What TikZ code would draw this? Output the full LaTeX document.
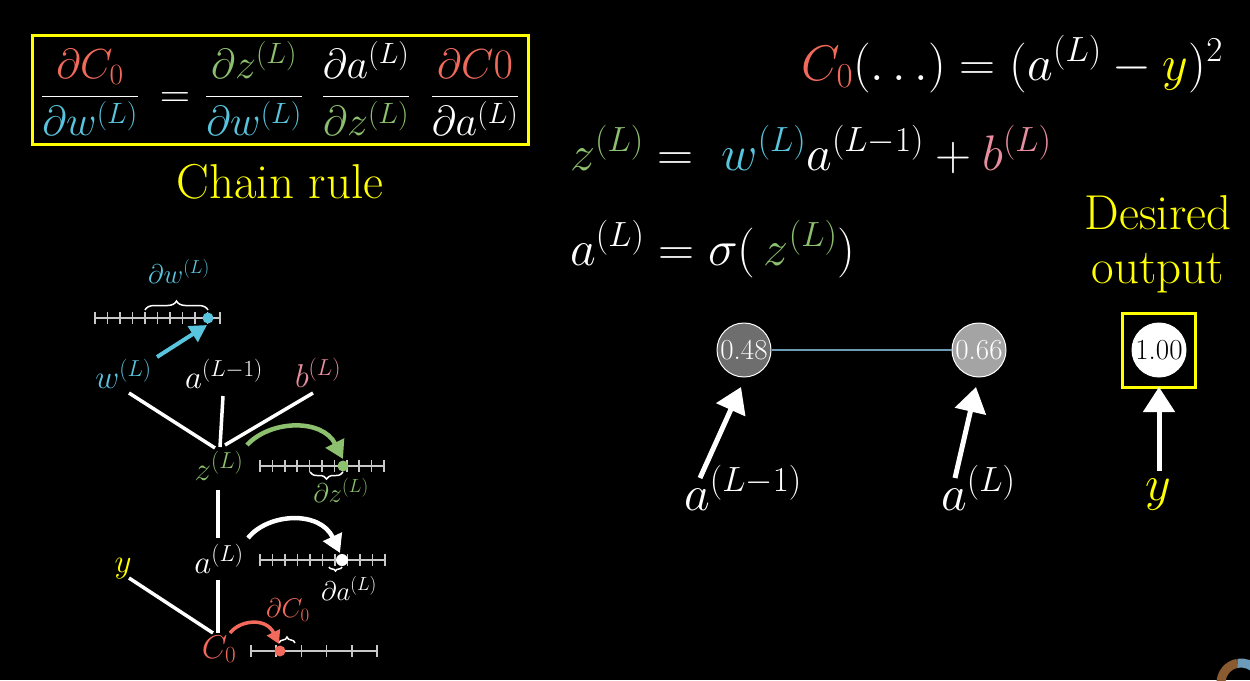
\RequirePackage{fix-cm}
\documentclass[tikz,border=0pt]{standalone}
\usepackage{amsmath}
\usetikzlibrary{arrows.meta,decorations.pathreplacing}
\definecolor{cred}{HTML}{F26A5B}
\definecolor{cblue}{HTML}{58C4DD}
\definecolor{cgreen}{HTML}{8CBF6E}
\definecolor{cpink}{HTML}{E88E9E}
\definecolor{cyel}{HTML}{FFFF00}
\definecolor{lgray}{HTML}{C8C8C8}
\definecolor{linkblue}{HTML}{6E9BB4}
\definecolor{nodedark}{HTML}{6E6E6E}
\definecolor{nodelight}{HTML}{A4A4A4}
\definecolor{spinbrown}{HTML}{8A5A30}
\definecolor{spinblue}{HTML}{6C9CBA}
\newcommand\fsz[1]{\fontsize{#1}{#1}\selectfont}
\newcommand\numline[4]{%
  \draw[tickline] (#1,#3) -- (#2,#3);
  \foreach \i in {0,...,#4} {\draw[tickline] ({#1+\i*(#2-#1)/#4},{#3-6}) -- ++(0,12);}
}
\tikzset{
  lbl/.style={inner sep=0pt, text=white, anchor=base},
  gl/.style={lbl, font=\fsz{33}},
  dl/.style={lbl, font=\fsz{27}},
  eql/.style={lbl, font=\fsz{50}},
  fracl/.style={lbl, font=\fsz{42}},
  edgeline/.style={draw=white, line width=3.5pt},
  tickline/.style={draw=lgray, line width=1.5pt},
  neuron/.style={circle, draw=white, line width=1pt, minimum size=54pt, inner sep=0pt, font=\fsz{29}},
  bigarrow/.style={draw=white, line width=5pt, -{Triangle[width=31pt,length=25pt]}},
  brc/.style={draw=white, line width=1.5pt, decoration={brace, amplitude=#1}, decorate},
}
\begin{document}
\begin{tikzpicture}[x=1pt,y=-1pt]
\fill[black] (0,0) rectangle (1250,680);
\useasboundingbox (0,0) rectangle (1250,680);

% ---------- chain rule box ----------
\node[draw=cyel, line width=3pt, minimum width=496pt, minimum height=109pt, inner sep=0pt] (box) at (280,89.5) {};
\node[fracl] (f1) at (90,107) {$\dfrac{\color{cred}\partial C_0}{\color{cblue}\partial w^{(L)}}$};
\node[fracl] (eqs) at (175,107) {$=$};
\node[fracl] (f2) at (254,107) {$\dfrac{\color{cgreen}\partial z^{(L)}}{\color{cblue}\partial w^{(L)}}$};
\node[fracl] (f3) at (366,107) {$\dfrac{\partial a^{(L)}}{\color{cgreen}\partial z^{(L)}}$};
\node[fracl] (f4) at (475,107) {$\dfrac{\color{cred}\partial C0}{\partial a^{(L)}}$};
\node[lbl, text=cyel, font=\fsz{49}] (chain) at (280,198) {Chain rule};

% ---------- right equations ----------
\node[eql, anchor=base east] (eqC) at (1223,80) {$\color{cred}C_0\color{white}(\ldots) = (a^{(L)} - {\color{cyel}y})^2$};
\node[eql, anchor=base west] (eqz) at (570,170) {$\color{cgreen}z^{(L)}\color{white} = \;{\color{cblue}w^{(L)}}a^{(L-1)} + {\color{cpink}b^{(L)}}$};
\node[eql, anchor=base west] (eqa) at (570,265) {$a^{(L)} = \sigma(\,{\color{cgreen}z^{(L)}})$};
\node[lbl, text=cyel, font=\fsz{49}] (des) at (1158,229) {Desired};
\node[lbl, text=cyel, font=\fsz{49}] (outp) at (1158,283) {output};

% ---------- network ----------
\node[neuron, fill=nodedark, text=white] (n1) at (744,350) {0.48};
\node[neuron, fill=nodelight, text=white] (n2) at (979,350) {0.66};
\node[neuron, fill=white, text=black] (n3) at (1159,350) {1.00};
\node[draw=cyel, line width=3pt, minimum width=73pt, minimum height=74pt, inner sep=0pt] (ybox) at (1158.5,350) {};
\draw[linkblue, line width=1.5pt] (n1) -- (n2);

\node[eql, anchor=base west] (lA) at (684,510) {$a^{(L-1)}$};
\node[eql, anchor=base west] (lB) at (941,510) {$a^{(L)}$};
\node[eql, text=cyel] (lY) at (1158,500) {$y$};
\coordinate (tA) at (700,478);
\coordinate (tB) at (955,478);
\coordinate (tY) at (1159,471);
\coordinate (hA) at (741,387);
\coordinate (hB) at (976,387);
\coordinate (hY) at (1159,387);
\draw[bigarrow] (tA) -- (hA);
\draw[bigarrow] (tB) -- (hB);
\draw[bigarrow] (tY) -- (hY);

% ---------- computational graph ----------
\node[dl, text=cblue] (dw) at (179,283) {$\partial w^{(L)}$};
\node[gl, text=cblue] (w) at (123.5,388) {$w^{(L)}$};
\node[gl] (aprev) at (224,388) {$a^{(L-1)}$};
\node[gl, text=cpink] (b) at (318,387) {$b^{(L)}$};
\node[gl, text=cgreen] (z) at (219,480) {$z^{(L)}$};
\node[dl, text=cgreen] (dz) at (341,502) {$\partial z^{(L)}$};
\node[gl] (a) at (219,573) {$a^{(L)}$};
\node[dl] (da) at (349,600) {$\partial a^{(L)}$};
\node[gl, text=cyel] (y) at (123,572) {$y$};
\node[dl, text=cred] (dC) at (288,617) {$\partial C_0$};
\node[gl, text=cred] (C) at (219,658) {$C_0$};

\coordinate (w1) at (129,393); \coordinate (w2) at (215,448);
\coordinate (p1) at (223,396); \coordinate (p2) at (220,447);
\coordinate (b1) at (313,393); \coordinate (b2) at (225,445);
\coordinate (z1) at (218,490); \coordinate (z2) at (218,538);
\coordinate (a1) at (218,580); \coordinate (a2) at (218,633);
\coordinate (y1) at (129,578); \coordinate (y2) at (213,633);
\draw[edgeline] (w1) -- (w2);
\draw[edgeline] (p1) -- (p2);
\draw[edgeline] (b1) -- (b2);
\draw[edgeline] (z1) -- (z2);
\draw[edgeline] (a1) -- (a2);
\draw[edgeline] (y1) -- (y2);

% number lines
\numline{95}{220}{318}{10}
\numline{260}{384}{466}{10}
\numline{260}{385}{560}{10}
\numline{251}{377}{651}{5}

% dots
\coordinate (dotw) at (208,318);
\coordinate (dotz) at (343,466);
\coordinate (dota) at (342,560);
\coordinate (dotC) at (280,651);
\draw[cred, line width=6pt] (275,651) -- (dotC);
\fill[cblue] (dotw) circle (5.5pt);
\fill[cgreen] (dotz) circle (5.5pt);
\fill[white] (dota) circle (6pt);
\fill[cred] (dotC) circle (5.5pt);

% braces
\draw[brc=9pt] (145,310) -- (208,310);
\draw[brc=7pt] (343,472) -- (310,472);
\draw[brc=4pt] (342,567) -- (329,567);
\draw[brc=6pt] (279,643) -- (295,643);

% arrows
\coordinate (bw0) at (157,357);
\coordinate (bw1) at (207,325);
\draw[cblue, line width=4pt, -{Triangle[width=18pt,length=17pt]}] (bw0) -- (bw1);
\coordinate (gz0) at (247,445);
\coordinate (gz1) at (343,459);
\draw[cgreen, line width=4.5pt, -{Triangle[width=20pt,length=18pt]}] (gz0) .. controls (270,420) and (322,418) .. (gz1);
\coordinate (ga0) at (248,538);
\coordinate (ga1) at (340,553);
\draw[white, line width=4.5pt, -{Triangle[width=20pt,length=18pt]}] (ga0) .. controls (268,513) and (320,510) .. (ga1);
\coordinate (gc0) at (230,633);
\coordinate (gc1) at (279,644);
\draw[cred, line width=3.5pt, -{Triangle[width=14pt,length=13pt]}] (gc0) .. controls (240,620) and (266,617) .. (gc1);

% spinner artifact
\coordinate (spin) at (1241,683);
\draw[spinbrown, line width=9pt] (spin) ++(180:20pt) arc[start angle=180, end angle=100, radius=20pt];
\draw[spinblue, line width=9pt] (spin) ++(100:20pt) arc[start angle=100, end angle=0, radius=20pt];
\end{tikzpicture}
\end{document}
